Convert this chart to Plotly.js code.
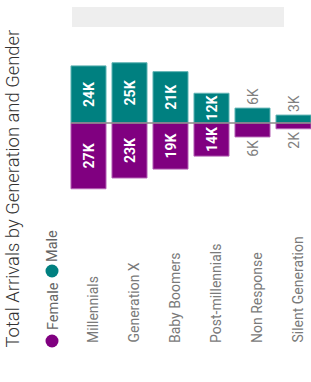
<!DOCTYPE html>
<html>
<head>
<meta charset="utf-8">
<script src="https://cdn.plot.ly/plotly-3.0.1.min.js"></script>
<style>
html,body{margin:0;padding:0;background:#fff;}
#chart{width:311px;height:382px;}
</style>
</head>
<body>
<div id="chart"></div>
<script>
// ---- data ----
const categories = ["Millennials", "Generation X", "Baby Boomers", "Post-millennials", "Non Response", "Silent Generation"];
const maleValues = [23800, 25100, 21400, 12400, 6200, 3300];
const femaleValues = [27400, 22900, 19200, 13800, 5800, 2400];
const seriesNames = ["Female", "Male"];
const chartTitle = "Total Arrivals by Generation and Gender";

// ---- styling / layout ----
const W = 311, H = 382;
const M = {l: 68, r: 0, t: 40, b: 170};
const plotW = W - M.l - M.r, plotH = H - M.t - M.b;
const catStep = 41;           // px per category
const zeroPx = 123;           // y pixel of baseline
const pxPerUnit = 2.4 / 1000; // px per arrival
const px2paperX = p => (p - M.l) / plotW;
const px2paperY = p => (H - M.b - p) / plotH;

const fmtK = v => Math.round(v / 1000) + "K";
const inside = ["inside","inside","inside","inside","outside","outside"];
const textColors = inside.map(p => p === "inside" ? "#ffffff" : "#808080");
const textWeights = inside.map(p => p === "inside" ? "bold" : "normal");

const maleColor = "#008080", femaleColor = "#800080";
const font = "Roboto, 'Open Sans', sans-serif";

const traces = [
  {
    type: "bar", name: seriesNames[1], x: categories, y: maleValues,
    text: maleValues.map(fmtK), textposition: inside, textangle: -90,
    insidetextanchor: "middle", constraintext: "none", cliponaxis: false,
    textfont: {family: font, size: 14, color: textColors, weight: textWeights},
    marker: {color: maleColor, line: {color: "#5fb3b3", width: 1}},
    hoverinfo: "skip"
  },
  {
    type: "bar", name: seriesNames[0], x: categories, y: femaleValues.map(v => -v),
    text: femaleValues.map(fmtK), textposition: inside, textangle: -90,
    insidetextanchor: "middle", constraintext: "none", cliponaxis: false,
    textfont: {family: font, size: 14, color: textColors, weight: textWeights},
    marker: {color: femaleColor, line: {color: "#b360b3", width: 1}},
    hoverinfo: "skip"
  }
];

const yTop = (zeroPx - M.t) / pxPerUnit;
const yBot = -(H - M.b - zeroPx) / pxPerUnit;

const annotations = categories.map(c => ({
  x: c, xref: "x", y: px2paperY(345), yref: "paper",
  text: c, textangle: -90, showarrow: false,
  xanchor: "center", yanchor: "bottom", xshift: 4,
  font: {family: font, size: 14, color: "#7a7a7a"}
}));
annotations.push({
  x: px2paperX(12), xref: "paper", y: px2paperY(188.5), yref: "paper",
  text: chartTitle, textangle: -90, showarrow: false,
  xanchor: "center", yanchor: "middle",
  font: {family: font, size: 18.4, color: "#333333", weight: 300}
});
// legend labels (vertical)
annotations.push({
  x: px2paperX(53), xref: "paper", y: px2paperY(306), yref: "paper",
  text: seriesNames[0], textangle: -90, showarrow: false, xanchor: "center", yanchor: "middle",
  font: {family: font, size: 14.5, color: "#666666"}
});
annotations.push({
  x: px2paperX(53), xref: "paper", y: px2paperY(246), yref: "paper",
  text: seriesNames[1], textangle: -90, showarrow: false, xanchor: "center", yanchor: "middle",
  font: {family: font, size: 14.5, color: "#666666"}
});

const dot = (cx, cy, col) => ({
  type: "circle", xref: "paper", yref: "paper",
  x0: px2paperX(cx - 6.5), x1: px2paperX(cx + 6.5),
  y0: px2paperY(cy + 6.5), y1: px2paperY(cy - 6.5),
  fillcolor: col, line: {width: 0}
});

const layout = {
  width: W, height: H,
  margin: M,
  paper_bgcolor: "#ffffff", plot_bgcolor: "#ffffff",
  barmode: "relative", bargap: 0.146,
  showlegend: false,
  xaxis: {type: "category", range: [-0.5, -0.5 + plotW / catStep], showticklabels: false,
          showgrid: false, zeroline: false, showline: false, ticks: "", fixedrange: true},
  yaxis: {range: [yBot, yTop], showticklabels: false, showgrid: false, zeroline: false,
          showline: false, ticks: "", fixedrange: true},
  shapes: [
    {type: "rect", xref: "paper", yref: "paper",
     x0: px2paperX(72), x1: px2paperX(284), y0: px2paperY(27), y1: px2paperY(7),
     fillcolor: "#eeeeee", line: {width: 0}, layer: "below"},
    {type: "line", xref: "paper", yref: "y",
     x0: px2paperX(71), x1: 1, y0: 0, y1: 0,
     line: {color: "#8a8a8a", width: 1.5}, layer: "above"},
    dot(52, 341, femaleColor),
    dot(52, 271, maleColor)
  ],
  annotations: annotations,
  font: {family: font}
};

Plotly.newPlot("chart", traces, layout, {displayModeBar: false, staticPlot: true});
</script>
</body>
</html>
